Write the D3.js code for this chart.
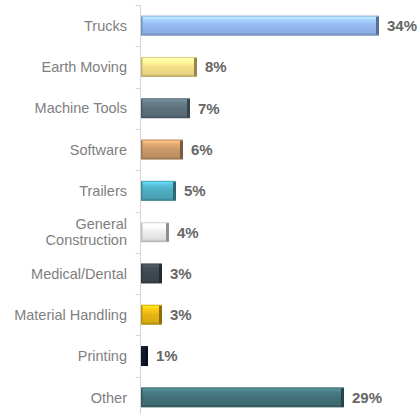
<!DOCTYPE html>
<html>
<head>
<meta charset="utf-8">
<script src="https://cdn.jsdelivr.net/npm/d3@7"></script>
<style>
  html, body { margin: 0; padding: 0; background: #fff; }
  svg { display: block; }
</style>
</head>
<body>
<svg id="chart" width="417" height="414"></svg>
<script>
// Share of revenue by end market (percent)
const categories = [
  "Trucks", "Earth Moving", "Machine Tools", "Software", "Trailers",
  "General Construction", "Medical/Dental", "Material Handling", "Printing", "Other"
];
const values = [34, 8, 7, 6, 5, 4, 3, 3, 1, 29];
const valueLabels = ["34%", "8%", "7%", "6%", "5%", "4%", "3%", "3%", "1%", "29%"];
const barColors = [
  "#94b8f0", "#f6df88", "#5d707c", "#c99866", "#4eabc0",
  "#ececec", "#3f474f", "#e6b412", "#101a30", "#417078"
];

const svg = d3.select("#chart");
const axisX = 140.5;

const y = d3.scaleBand().domain(categories).range([5, 418]).padding(0);
const x = d3.scaleLinear().domain([0, 40]).range([141, 421]);
const barH = 20;
const barY = c => y(c) + (y.step() - barH) / 2;

// Bevelled bar fills: one vertical gradient per bar
const defs = svg.append("defs");
categories.forEach((c, i) => {
  const base = d3.color(barColors[i]);
  const g = defs.append("linearGradient")
    .attr("id", "grad" + i).attr("x1", 0).attr("y1", 0).attr("x2", 0).attr("y2", 1);
  const stops = [
    [0, base.darker(0.5)],
    [0.08, base.brighter(0.7)],
    [0.22, base.brighter(0.35)],
    [0.5, base],
    [0.85, base.darker(0.15)],
    [1, base.darker(0.9)]
  ];
  stops.forEach(([o, col]) => g.append("stop").attr("offset", o).attr("stop-color", col.formatHex()));
});

// Axis line and ticks at band boundaries
svg.append("line")
  .attr("x1", axisX).attr("x2", axisX).attr("y1", 5).attr("y2", 414)
  .attr("stroke", "#d4d4d4").attr("stroke-width", 1);
const boundaries = categories.map(c => y(c)).concat([y.range()[1]]);
svg.selectAll("line.tick").data(boundaries).join("line")
  .attr("class", "tick")
  .attr("x1", axisX - 5).attr("x2", axisX)
  .attr("y1", d => Math.round(d) + 0.5).attr("y2", d => Math.round(d) + 0.5)
  .attr("stroke", "#d4d4d4");

// Bars
const bars = svg.selectAll("g.bar").data(categories).join("g").attr("class", "bar");
bars.append("rect")
  .attr("x", x(0)).attr("y", c => barY(c))
  .attr("width", (c, i) => x(values[i]) - x(0)).attr("height", barH)
  .attr("fill", (c, i) => `url(#grad${i})`);
// left edge shade
bars.append("rect")
  .attr("x", x(0)).attr("y", c => barY(c) + 1)
  .attr("width", 1.5).attr("height", barH - 2)
  .attr("fill", (c, i) => d3.color(barColors[i]).darker(0.6).formatHex());
// darker right end cap
bars.append("rect")
  .attr("x", (c, i) => x(values[i]) - 3).attr("y", c => barY(c) + 1)
  .attr("width", 3).attr("height", barH - 2)
  .attr("fill", (c, i) => d3.color(barColors[i]).darker(1.4).formatHex());

// Value labels
svg.selectAll("text.value").data(categories).join("text")
  .attr("class", "value")
  .attr("x", (c, i) => x(values[i]) + 8)
  .attr("y", c => y(c) + y.step() / 2)
  .attr("dy", "0.36em")
  .attr("font-family", "Liberation Sans, Arial, sans-serif")
  .attr("font-size", 15).attr("font-weight", "bold")
  .attr("fill", "#666")
  .text((c, i) => valueLabels[i]);

// Category labels (right aligned, long name wraps to two lines)
const wrapped = { "General Construction": ["General", "Construction"] };
const labels = svg.selectAll("text.cat").data(categories).join("text")
  .attr("class", "cat")
  .attr("text-anchor", "end")
  .attr("font-family", "Liberation Sans, Arial, sans-serif")
  .attr("font-size", 14.5)
  .attr("fill", "#808080");
labels.each(function (c) {
  const t = d3.select(this);
  const lines = wrapped[c] || [c];
  const cy = y(c) + y.step() / 2;
  const lh = 16;
  lines.forEach((ln, k) => {
    t.append("tspan")
      .attr("x", 127)
      .attr("y", cy + (k - (lines.length - 1) / 2) * lh)
      .attr("dy", "0.36em")
      .text(ln);
  });
});
</script>
</body>
</html>
